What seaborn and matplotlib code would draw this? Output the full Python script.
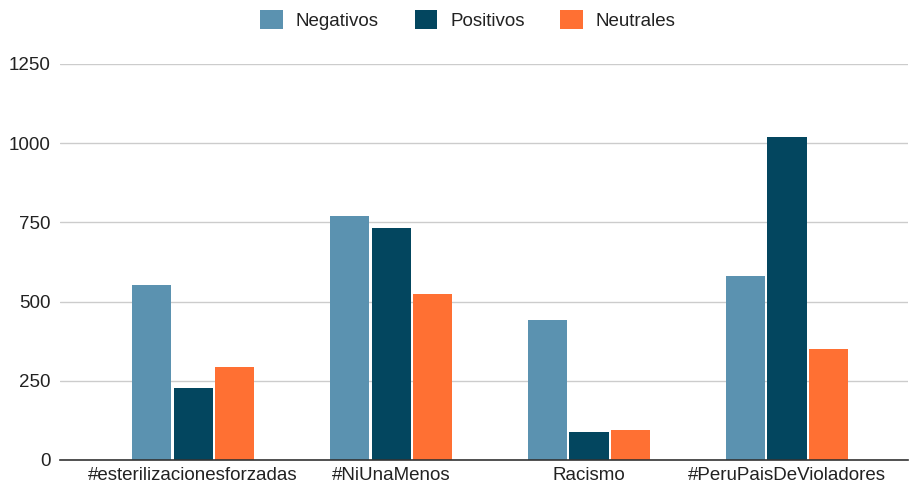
import matplotlib
matplotlib.use("Agg")
import matplotlib.pyplot as plt
import seaborn as sns
import pandas as pd
from matplotlib.patches import Patch

categories = ["#esterilizacionesforzadas", "#NiUnaMenos", "Racismo", "#PeruPaisDeVioladores"]
series = ["Negativos", "Positivos", "Neutrales"]
negativos = [553, 769, 441, 580]
positivos = [227, 733, 88, 1020]
neutrales = [292, 523, 94, 349]
colors = ["#5B92B0", "#03465F", "#FF7033"]
yticks = [0, 250, 500, 750, 1000, 1250]

rows = []
for name, vals in zip(series, [negativos, positivos, neutrales]):
    for c, v in zip(categories, vals):
        rows.append({"cat": c, "serie": name, "valor": v})
df = pd.DataFrame(rows)

sns.set_theme(style="white")
plt.rcParams["font.family"] = ["Liberation Sans", "DejaVu Sans"]

fig = plt.figure(figsize=(9.09, 4.91), dpi=100)
ax = fig.add_axes([60/909, 31/491, 848/909, 396/491])
sns.barplot(data=df, x="cat", y="valor", hue="serie", palette=colors,
            order=categories, hue_order=series, width=0.63, gap=0.06,
            saturation=1, ax=ax, legend=False, edgecolor="none")

ax.set_ylim(0, 1250)
ax.set_xlim(-0.672, 3.611)
ax.set_yticks(yticks)
ax.set_yticklabels([str(t) for t in yticks], fontsize=13.5, color="#222222")
ax.tick_params(axis="x", labelsize=13.5, labelcolor="#222222", length=0, pad=5)
ax.tick_params(axis="y", length=0, pad=7)
ax.grid(axis="y", color="#cccccc", linewidth=1)
ax.set_axisbelow(True)
for s in ["top", "right", "left"]:
    ax.spines[s].set_visible(False)
ax.spines["bottom"].set_color("#333333")
ax.spines["bottom"].set_linewidth(1.2)
ax.set_xlabel("")
ax.set_ylabel("")

handles = [Patch(facecolor=c, edgecolor="none", label=s) for c, s in zip(colors, series)]
fig.legend(handles=handles, loc="center", bbox_to_anchor=(468/909, 1 - 20/491), ncol=3,
           frameon=False, fontsize=13.5, handlelength=1.2, handleheight=1.2,
           columnspacing=1.9, handletextpad=0.7, labelcolor="#222222")

fig.savefig("out.png", dpi=100)
